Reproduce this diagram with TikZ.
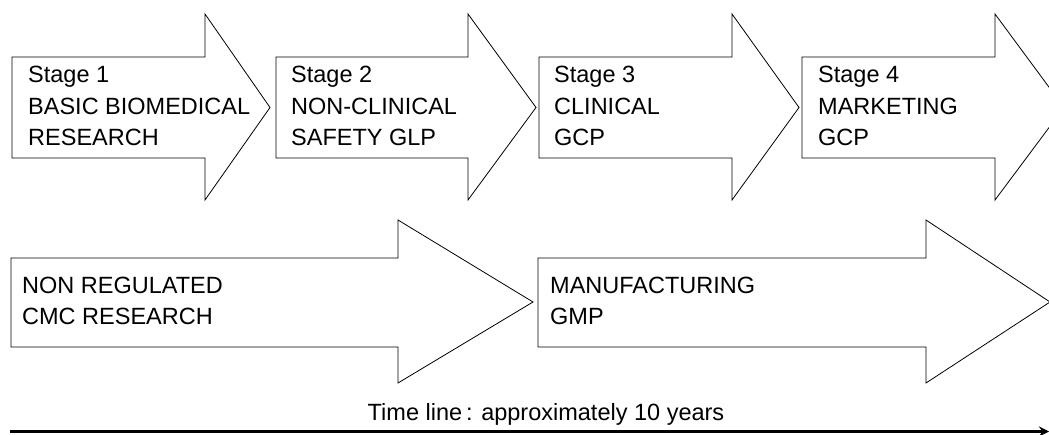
\documentclass[tikz,border=0pt]{standalone}
\usepackage{fontspec}
\setmainfont{Liberation Sans}
\usetikzlibrary{arrows}

\tikzset{
  stagearrow/.style={line width=0.8pt,line join=miter},
  stagetext/.style={font=\fontsize{23.5}{31.6}\selectfont,align=left,anchor=base west,inner sep=0pt}
}

\begin{document}
\begin{tikzpicture}[x=1pt,y=-1pt]
\useasboundingbox (0,0) rectangle (1049,435);
\clip (0,0) rectangle (1049,435);
% regulatory stages (node base = last line)
\foreach \l/\h/\t in {12/205/270,276/468/536,539/732/799,802/995/1064}
  \draw[stagearrow] (\l,57) -- (\h,57) -- (\h,14) -- (\t,107.5) -- (\h,200) -- (\h,158) -- (\l,158) -- cycle;
\node[stagetext] (s1) at (28,146) {Stage 1\\BASIC BIOMEDICAL\\RESEARCH};
\node[stagetext] (s2) at (291,146) {Stage 2\\NON-CLINICAL\\SAFETY GLP};
\node[stagetext] (s3) at (554,146) {Stage 3\\CLINICAL\\GCP};
\node[stagetext] (s4) at (818,146) {Stage 4\\MARKETING\\GCP};
% chemistry, manufacturing and controls
\foreach \l/\h/\t in {11/398/533,538/926/1050}
  \draw[stagearrow] (\l,258) -- (\h,258) -- (\h,220) -- (\t,302) -- (\h,383) -- (\h,347) -- (\l,347) -- cycle;
\node[stagetext] (cmc) at (22,325) {NON REGULATED\\CMC RESEARCH};
\node[stagetext] (gmp) at (550,325) {MANUFACTURING\\GMP};
% time line
\node[stagetext,anchor=base] (tl) at (546,420) {Time line\,: approximately 10 years};
\coordinate (tstart) at (10,431.5);
\coordinate (tend) at (1049,431.5);
\draw[line width=3.4pt,-stealth] (tstart) -- (tend);
\end{tikzpicture}
\end{document}
